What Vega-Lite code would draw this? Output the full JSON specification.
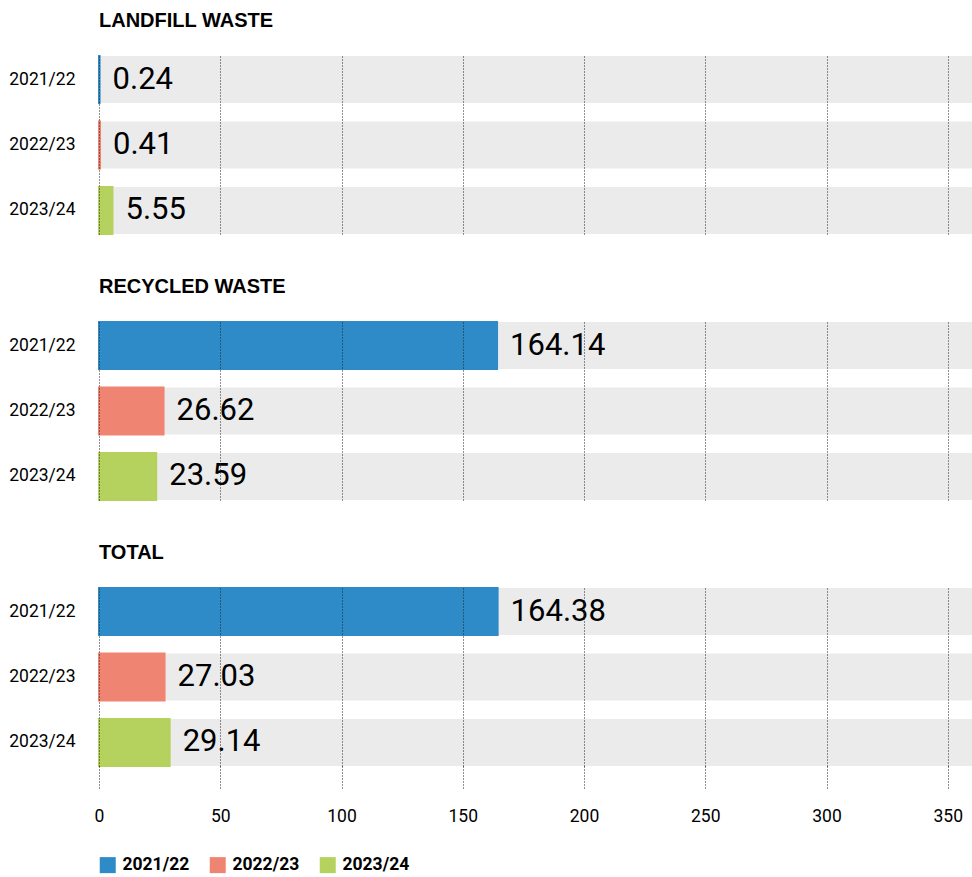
{
  "$schema": "https://vega.github.io/schema/vega-lite/v6.json",
  "padding": {"left": 8, "top": 11, "right": 0, "bottom": 0},
  "autosize": {"type": "pad"},
  "background": "white",
  "datasets": {
    "d": [
      {"category": "Landfill waste", "year": "2021/22", "value": 0.24},
      {"category": "Landfill waste", "year": "2022/23", "value": 0.41},
      {"category": "Landfill waste", "year": "2023/24", "value": 5.55},
      {"category": "Recycled waste", "year": "2021/22", "value": 164.14},
      {"category": "Recycled waste", "year": "2022/23", "value": 26.62},
      {"category": "Recycled waste", "year": "2023/24", "value": 23.59},
      {"category": "Total", "year": "2021/22", "value": 164.38},
      {"category": "Total", "year": "2022/23", "value": 27.03},
      {"category": "Total", "year": "2023/24", "value": 29.14}
    ]
  },
  "config": {
    "view": {"stroke": null},
    "font": "Roboto",
    "title": {"anchor": "start", "frame": "group", "font": "Liberation Sans", "fontSize": 20, "fontWeight": "bold", "offset": 24, "color": "#000000"},
    "axis": {"labelColor": "#000000", "labelFont": "Roboto"},
    "legend": {"labelFont": "Roboto"}
  },
  "spacing": 41,
  "vconcat": [
    {
      "title": "LANDFILL WASTE",
      "width": 873, "height": 178,
      "data": {"name": "d"},
      "transform": [{"filter": "datum.category === 'Landfill waste'"}],
      "encoding": {
        "y": {"field": "year", "type": "nominal", "sort": null, "scale": {"paddingInner": 0.28, "paddingOuter": 0},
          "axis": {"title": null, "ticks": false, "domain": false, "labelPadding": 24, "labelFontSize": 17.5}}
      },
      "layer": [
        {"mark": {"type": "bar", "color": "#ebebeb"},
          "encoding": {"x": {"datum": 360, "type": "quantitative", "scale": {"domain": [0, 360], "nice": false, "zero": true},
            "axis": {"title": null, "values": [0, 50, 100, 150, 200, 250, 300, 350], "labels": false, "ticks": false, "domain": false, "grid": true, "gridDash": [1, 2], "gridColor": "#222222", "gridWidth": 1, "zindex": 1}}}},
        {"mark": {"type": "bar", "strokeWidth": 2},
          "encoding": {"x": {"field": "value", "type": "quantitative"},
            "color": {"field": "year", "type": "nominal", "scale": {"domain": ["2021/22", "2022/23", "2023/24"], "range": ["#2e8bc7", "#f08473", "#b5d15e"]},
              "legend": {"orient": "bottom", "direction": "horizontal", "title": null, "symbolType": "square", "symbolSize": 256, "symbolStrokeWidth": 0, "labelFontSize": 17.5, "labelFontWeight": "bold", "labelColor": "#000000", "columnPadding": 19, "labelOffset": 6, "offset": 31}},
            "stroke": {"field": "year", "type": "nominal", "scale": {"domain": ["2021/22", "2022/23", "2023/24"], "range": ["#2e8bc7", "#f08473", "#b5d15e"]}, "legend": null}}},
        {"mark": {"type": "text", "align": "left", "baseline": "middle", "dx": 13, "fontSize": 31, "color": "#000000"},
          "encoding": {"x": {"field": "value", "type": "quantitative"}, "text": {"field": "value", "type": "quantitative", "format": ".2f"}}}
      ]
    },
    {
      "title": "RECYCLED WASTE",
      "width": 873, "height": 178,
      "data": {"name": "d"},
      "transform": [{"filter": "datum.category === 'Recycled waste'"}],
      "encoding": {
        "y": {"field": "year", "type": "nominal", "sort": null, "scale": {"paddingInner": 0.28, "paddingOuter": 0},
          "axis": {"title": null, "ticks": false, "domain": false, "labelPadding": 24, "labelFontSize": 17.5}}
      },
      "layer": [
        {"mark": {"type": "bar", "color": "#ebebeb"},
          "encoding": {"x": {"datum": 360, "type": "quantitative", "scale": {"domain": [0, 360], "nice": false, "zero": true},
            "axis": {"title": null, "values": [0, 50, 100, 150, 200, 250, 300, 350], "labels": false, "ticks": false, "domain": false, "grid": true, "gridDash": [1, 2], "gridColor": "#222222", "gridWidth": 1, "zindex": 1}}}},
        {"mark": {"type": "bar", "strokeWidth": 2},
          "encoding": {"x": {"field": "value", "type": "quantitative"},
            "color": {"field": "year", "type": "nominal", "scale": {"domain": ["2021/22", "2022/23", "2023/24"], "range": ["#2e8bc7", "#f08473", "#b5d15e"]}},
            "stroke": {"field": "year", "type": "nominal", "scale": {"domain": ["2021/22", "2022/23", "2023/24"], "range": ["#2e8bc7", "#f08473", "#b5d15e"]}, "legend": null}}},
        {"mark": {"type": "text", "align": "left", "baseline": "middle", "dx": 13, "fontSize": 31, "color": "#000000"},
          "encoding": {"x": {"field": "value", "type": "quantitative"}, "text": {"field": "value", "type": "quantitative", "format": ".2f"}}}
      ]
    },
    {
      "title": "TOTAL",
      "width": 873, "height": 178,
      "data": {"name": "d"},
      "transform": [{"filter": "datum.category === 'Total'"}],
      "encoding": {
        "y": {"field": "year", "type": "nominal", "sort": null, "scale": {"paddingInner": 0.28, "paddingOuter": 0},
          "axis": {"title": null, "ticks": false, "domain": false, "labelPadding": 24, "labelFontSize": 17.5}}
      },
      "layer": [
        {"mark": {"type": "bar", "color": "#ebebeb"},
          "encoding": {"x": {"datum": 360, "type": "quantitative", "scale": {"domain": [0, 360], "nice": false, "zero": true},
            "axis": {"title": null, "values": [0, 50, 100, 150, 200, 250, 300, 350], "labels": true, "labelFlush": false, "labelFontSize": 17.5, "labelPadding": 17, "ticks": true, "tickSize": 24, "tickDash": [1, 2], "tickColor": "#222222", "tickWidth": 1, "domain": false, "grid": true, "gridDash": [1, 2], "gridColor": "#222222", "gridWidth": 1, "zindex": 1}}}},
        {"mark": {"type": "bar", "strokeWidth": 2},
          "encoding": {"x": {"field": "value", "type": "quantitative"},
            "color": {"field": "year", "type": "nominal", "scale": {"domain": ["2021/22", "2022/23", "2023/24"], "range": ["#2e8bc7", "#f08473", "#b5d15e"]}},
            "stroke": {"field": "year", "type": "nominal", "scale": {"domain": ["2021/22", "2022/23", "2023/24"], "range": ["#2e8bc7", "#f08473", "#b5d15e"]}, "legend": null}}},
        {"mark": {"type": "text", "align": "left", "baseline": "middle", "dx": 13, "fontSize": 31, "color": "#000000"},
          "encoding": {"x": {"field": "value", "type": "quantitative"}, "text": {"field": "value", "type": "quantitative", "format": ".2f"}}}
      ]
    }
  ]
}
